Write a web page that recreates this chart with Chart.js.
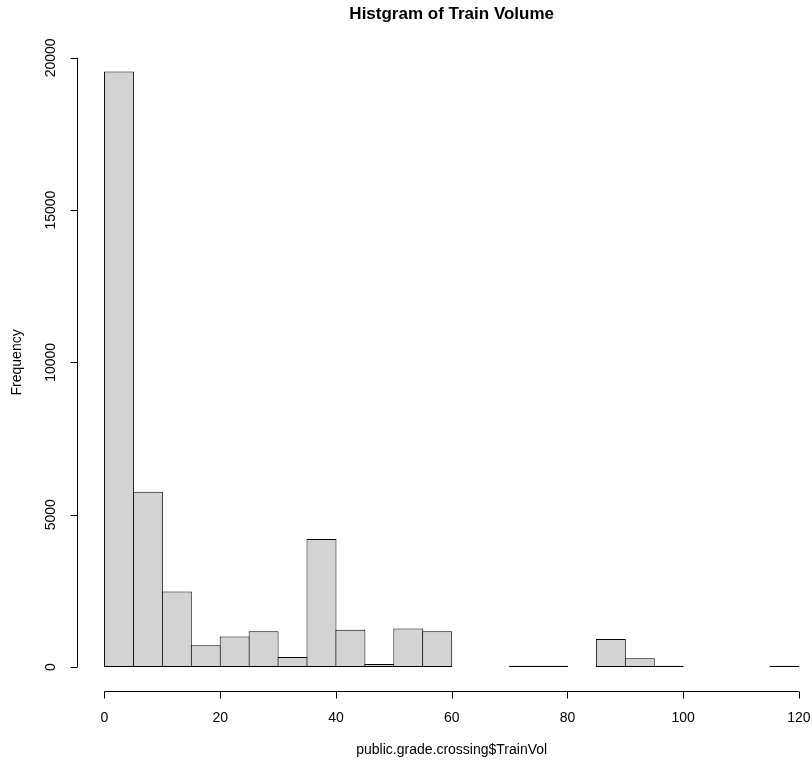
<!DOCTYPE html>
<html>
<head>
<meta charset="utf-8">
<script src="https://cdn.jsdelivr.net/npm/chart.js@4"></script>
<style>
  body { margin: 0; background: #fff; }
  #hist { display: block; }
</style>
</head>
<body>
<canvas id="hist" width="812" height="765"></canvas>
<script>
// bins of width 5, left edges
var binStarts = [0, 5, 10, 15, 20, 25, 30, 35, 40, 45, 50, 55, 60, 65, 70, 75, 80, 85, 90, 95, 100, 105, 110, 115];
var counts = [19550, 5750, 2480, 710, 1000, 1170, 330, 4200, 1225, 100, 1260, 1170, 0, 0, 40, 40, 0, 920, 290, 40, 0, 0, 0, 40];
var xTicks = [0, 20, 40, 60, 80, 100, 120];
var yTicks = [0, 5000, 10000, 15000, 20000];
var binWidth = 5;

var font = '"Liberation Sans", Arial, sans-serif';

// R style axes, titles and labels
var rAxes = {
    id: 'rAxes',
    afterDraw: function(chart) {
        var ctx = chart.ctx;
        var xs = chart.scales.x;
        var ys = chart.scales.y;
        var area = chart.chartArea;
        ctx.save();
        ctx.strokeStyle = '#000';
        ctx.fillStyle = '#000';
        ctx.lineWidth = 1;

        // x axis
        var yAx = Math.round(area.bottom) + 0.5;
        var x0 = xs.getPixelForValue(xTicks[0]);
        var x1 = xs.getPixelForValue(xTicks[xTicks.length - 1]);
        ctx.beginPath();
        ctx.moveTo(x0, yAx);
        ctx.lineTo(x1, yAx);
        xTicks.forEach(function(t) {
            var px = Math.round(xs.getPixelForValue(t)) + 0.5;
            ctx.moveTo(px, yAx);
            ctx.lineTo(px, yAx + 7);
        });
        ctx.stroke();
        ctx.font = '14px ' + font;
        ctx.textAlign = 'center';
        ctx.textBaseline = 'middle';
        xTicks.forEach(function(t) {
            ctx.fillText(String(t), xs.getPixelForValue(t), 718);
        });

        // y axis
        var xAx = Math.round(area.left) + 0.5;
        var yA = ys.getPixelForValue(yTicks[0]);
        var yB = ys.getPixelForValue(yTicks[yTicks.length - 1]);
        ctx.beginPath();
        ctx.moveTo(xAx, yA);
        ctx.lineTo(xAx, yB);
        yTicks.forEach(function(t) {
            var py = Math.round(ys.getPixelForValue(t)) + 0.5;
            ctx.moveTo(xAx, py);
            ctx.lineTo(xAx - 7, py);
        });
        ctx.stroke();
        yTicks.forEach(function(t) {
            ctx.save();
            ctx.translate(51, ys.getPixelForValue(t));
            ctx.rotate(-Math.PI / 2);
            ctx.fillText(String(t), 0, 0);
            ctx.restore();
        });

        // axis titles
        ctx.fillText('public.grade.crossing$TrainVol', (x0 + x1) / 2, 750);
        ctx.save();
        ctx.translate(17, (yA + yB) / 2);
        ctx.rotate(-Math.PI / 2);
        ctx.fillText('Frequency', 0, 0);
        ctx.restore();

        // main title
        ctx.font = 'bold 17px ' + font;
        ctx.fillText('Histgram of Train Volume', (x0 + x1) / 2, 14);
        ctx.restore();
    }
};

var points = binStarts.map(function(s, i) {
    return { x: s + binWidth / 2, y: counts[i] };
});

new Chart(document.getElementById('hist'), {
    type: 'bar',
    data: {
        datasets: [{
            data: points,
            backgroundColor: '#D3D3D3',
            borderColor: '#000',
            borderWidth: 1,
            borderSkipped: false,
            barPercentage: 1.035,
            categoryPercentage: 1
        }]
    },
    options: {
        responsive: false,
        animation: false,
        devicePixelRatio: 1,
        layout: { padding: { left: 76.7, right: 0, top: 47.6, bottom: 74.2 } },
        plugins: {
            legend: { display: false },
            tooltip: { enabled: false }
        },
        scales: {
            x: { type: 'linear', display: false, min: -4.8, max: 122.26, offset: false },
            y: { type: 'linear', display: false, min: -782, max: 20336 }
        }
    },
    plugins: [rAxes]
});
</script>
</body>
</html>
